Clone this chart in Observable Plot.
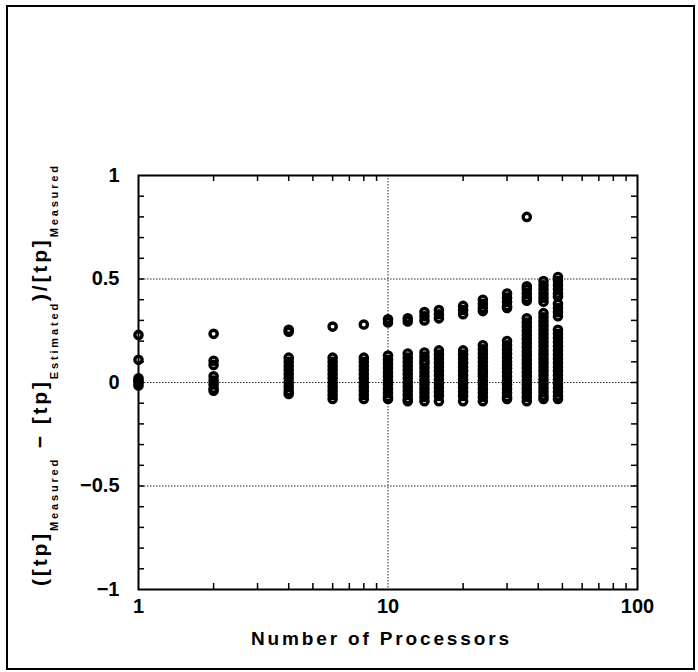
<!DOCTYPE html>
<html><head><meta charset="utf-8">
<script src="https://cdn.jsdelivr.net/npm/d3@7"></script>
<script src="https://cdn.jsdelivr.net/npm/@observablehq/plot@0.6"></script>
<style>
body{margin:0;background:#fff}
#wrap{position:relative;width:698px;height:672px}
#border{position:absolute;left:6px;top:5px;width:685px;height:661px;border:2px solid #000;pointer-events:none}
</style></head>
<body><div id="wrap"><div id="border"></div></div>
<script>
const procs = [1, 2, 4, 6, 8, 10, 12, 14, 16, 20, 24, 30, 36, 42, 48];
const errs = [
 [0.23, 0.11, 0.02, 0.01, 0.0, -0.015],
 [0.235, 0.105, 0.085, 0.03, 0.01, -0.01, -0.03, -0.04],
 [0.255, 0.245, 0.12, 0.10, 0.08, 0.06, 0.04, 0.02, 0.0, -0.02, -0.04, -0.055],
 [0.27, 0.12, 0.10, 0.08, 0.06, 0.04, 0.02, 0.0, -0.02, -0.04, -0.06, -0.08],
 [0.28, 0.12, 0.10, 0.08, 0.06, 0.04, 0.02, 0.0, -0.02, -0.04, -0.06, -0.08],
 [0.305, 0.29, 0.13, 0.11, 0.09, 0.07, 0.05, 0.03, 0.01, -0.01, -0.03, -0.05, -0.07, -0.08],
 [0.31, 0.295, 0.14, 0.12, 0.10, 0.08, 0.06, 0.04, 0.02, 0.0, -0.02, -0.04, -0.06, -0.08, -0.09],
 [0.34, 0.32, 0.30, 0.145, 0.125, 0.105, 0.09, 0.07, 0.05, 0.03, 0.01, -0.01, -0.03, -0.05, -0.07, -0.09],
 [0.35, 0.33, 0.31, 0.155, 0.135, 0.115, 0.095, 0.075, 0.055, 0.035, 0.015, -0.005, -0.025, -0.045, -0.065, -0.09],
 [0.37, 0.35, 0.33, 0.155, 0.135, 0.115, 0.095, 0.075, 0.055, 0.035, 0.015, -0.005, -0.025, -0.045, -0.065, -0.09],
 [0.40, 0.38, 0.36, 0.345, 0.18, 0.16, 0.14, 0.12, 0.10, 0.08, 0.06, 0.045, 0.03, 0.01, -0.01, -0.03, -0.05, -0.07, -0.09],
 [0.43, 0.41, 0.39, 0.37, 0.36, 0.20, 0.18, 0.16, 0.14, 0.12, 0.10, 0.085, 0.068, 0.05, 0.03, 0.01, -0.01, -0.03, -0.05, -0.07, -0.08],
 [0.80, 0.465, 0.45, 0.43, 0.41, 0.395, 0.31, 0.29, 0.27, 0.25, 0.23, 0.21, 0.19, 0.17, 0.15, 0.13, 0.11, 0.09, 0.07, 0.05, 0.03, 0.01, -0.01, -0.03, -0.05, -0.07, -0.09],
 [0.49, 0.47, 0.45, 0.43, 0.41, 0.39, 0.335, 0.315, 0.295, 0.275, 0.255, 0.235, 0.215, 0.195, 0.175, 0.155, 0.135, 0.115, 0.095, 0.075, 0.055, 0.035, 0.015, -0.005, -0.025, -0.045, -0.065, -0.08],
 [0.51, 0.49, 0.47, 0.45, 0.43, 0.415, 0.38, 0.36, 0.34, 0.32, 0.255, 0.235, 0.215, 0.195, 0.175, 0.155, 0.135, 0.115, 0.095, 0.075, 0.055, 0.035, 0.015, -0.005, -0.025, -0.045, -0.065, -0.08]
];
const xTickLabels = [1, 10, 100];
const xMinorTicks = [2, 3, 4, 5, 6, 7, 8, 9, 20, 30, 40, 50, 60, 70, 80, 90];
const xGridLines = [10];
const yTickLabels = [-1, -0.5, 0, 0.5, 1];
const yTickText = ["−1", "−0.5", "0", "0.5", "1"];
const yMinorTicks = [-0.9, -0.8, -0.7, -0.6, -0.5, -0.4, -0.3, -0.2, -0.1, 0, 0.1, 0.2, 0.3, 0.4, 0.5, 0.6, 0.7, 0.8, 0.9];
const yGridLines = [-0.5, 0, 0.5];

const points = procs.flatMap((p, i) => errs[i].map(e => ({p, e})));

const W = 698, H = 672, ML = 138, MR = 61, MT = 175, MB = 83;
const tickPx = 6;
const dy = tickPx * 2 / (H - MT - MB);          // tick length in y data units
const fx = Math.pow(100, tickPx / (W - ML - MR)); // tick length as x factor

const tickStyle = {stroke: "#000", strokeWidth: 1.5};
const chart = Plot.plot({
  width: W, height: H,
  marginLeft: ML, marginRight: MR, marginTop: MT, marginBottom: MB,
  x: {type: "log", domain: [1, 100]},
  y: {domain: [-1, 1]},
  style: {fontFamily: "Liberation Sans, Arial, sans-serif", fontSize: "20px", fontWeight: "bold", background: "transparent", color: "#000"},
  marks: [
    Plot.gridY(yGridLines, {stroke: "#000", strokeOpacity: 0.85, strokeDasharray: "1.5,1.5"}),
    Plot.gridX(xGridLines, {stroke: "#000", strokeOpacity: 0.85, strokeDasharray: "1.5,1.5"}),
    Plot.ruleX(xMinorTicks, {x: d => d, y1: -1, y2: -1 + dy, ...tickStyle}),
    Plot.ruleX(xMinorTicks, {x: d => d, y1: 1, y2: 1 - dy, ...tickStyle}),
    Plot.ruleY(yMinorTicks, {y: d => d, x1: 1, x2: fx, ...tickStyle}),
    Plot.ruleY(yMinorTicks, {y: d => d, x1: 100, x2: 100 / fx, ...tickStyle}),
    Plot.frame({stroke: "#000", strokeWidth: 2}),
    Plot.axisY(yTickLabels, {tickSize: 0, tickPadding: 19, label: null, fontSize: 20,
      tickFormat: d => yTickText[yTickLabels.indexOf(d)]}),
    Plot.axisX(xTickLabels, {tickSize: 0, tickPadding: 9, label: null, fontSize: 20, tickFormat: d => String(d)}),
    Plot.dot(points, {x: "p", y: "e", r: 3.6, stroke: "#000", strokeWidth: 3.4, fill: "none"})
  ]
});
document.getElementById("wrap").prepend(chart);

const svg = d3.select(chart);
svg.append("text")
  .attr("x", 380).attr("y", 645)
  .attr("text-anchor", "middle")
  .attr("font-size", 19).attr("font-weight", "bold")
  .attr("textLength", 258).attr("lengthAdjust", "spacing")
  .text("Number of Processors");

const yl = svg.append("text")
  .attr("transform", "translate(47,376) rotate(-90)")
  .attr("text-anchor", "middle")
  .attr("font-size", 21).attr("font-weight", "bold")
  .attr("textLength", 420).attr("lengthAdjust", "spacing");
const parts = [
  ["([tp]", false], ["Measured", true], [" − [tp]", false], ["Estimated", true], [")/[tp]", false], ["Measured", true]
];
const subShift = 11;
let shifted = false;
for (const [t, sub] of parts) {
  const ts = yl.append("tspan").text(t);
  if (sub) { ts.attr("font-size", 11).attr("dy", shifted ? 0 : subShift); shifted = true; }
  else { ts.attr("dy", shifted ? -subShift : 0); shifted = false; }
}
</script>
</body></html>
